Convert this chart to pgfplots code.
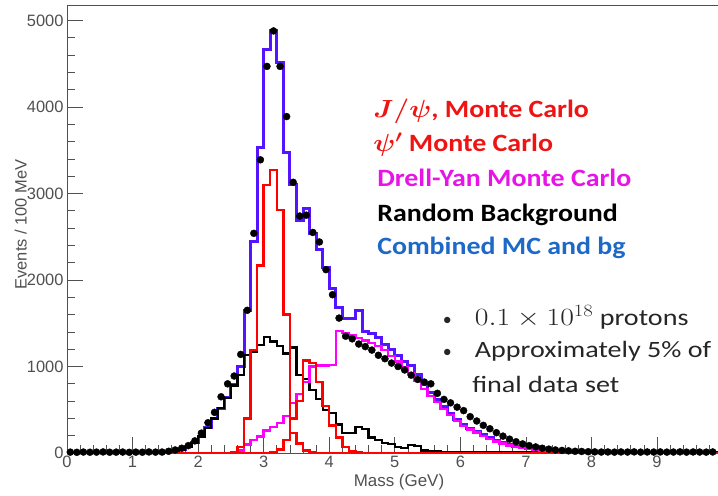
\documentclass[border=0pt]{standalone}
\usepackage{fontspec}
\usepackage{graphicx}
\usepackage{pgfplots}
\usepackage{pgfplotstable}
\pgfplotsset{compat=1.18}
\setmainfont{Liberation Sans}
\newfontfamily\calfont{Carlito}
\definecolor{combblue}{RGB}{85,20,255}
\definecolor{histred}{RGB}{255,0,0}
\definecolor{histmag}{RGB}{255,0,255}
\definecolor{tickgray}{RGB}{80,80,80}
\definecolor{txtred}{RGB}{238,20,20}
\definecolor{txtmag}{RGB}{230,20,230}
\definecolor{txtblue}{RGB}{30,105,200}

% bin left edge, J/psi, psi', Drell-Yan, random bg, combined
\pgfplotstableread{
x   jpsi psip dy   bg   comb
0.0 0    0    0    8    8
0.1 0    0    0    8    8
0.2 0    0    0    8    8
0.3 0    0    0    8    8
0.4 0    0    0    8    8
0.5 0    0    0    8    8
0.6 0    0    0    8    8
0.7 0    0    0    8    8
0.8 0    0    0    8    8
0.9 0    0    0    8    8
1.0 0    0    0    8    8
1.1 0    0    0    8    8
1.2 0    0    0    8    8
1.3 0    0    0    8    8
1.4 0    0    0    8    8
1.5 0    0    0    12   12
1.6 0    0    0    20   20
1.7 0    0    0    40   40
1.8 0    0    0    70   70
1.9 0    0    0    120  120
2.0 0    0    0    190  190
2.1 0    0    0    290  290
2.2 0    0    0    400  400
2.3 0    0    0    520  520
2.4 0    0    0    640  640
2.5 10   0    0    780  790
2.6 70   0    30   900  1000
2.7 400  0    100  1130 1650
2.8 1190 0    150  1170 2440
2.9 2170 0    190  1250 3530
3.0 3100 0    260  1340 4660
3.1 3270 10   300  1290 4880
3.2 2810 40   350  1240 4510
3.3 1600 150  430  1150 3480
3.4 230  400  580  1220 3110
3.5 110  600  680  900  2690
3.6 30   1070 820  860  2830
3.7 10   1040 1000 730  2540
3.8 0    820  1010 620  2350
3.9 0    540  1010 500  2140
4.0 0    320  1020 460  1900
4.1 0    180  1410 330  1680
4.2 0    70   1390 230  1560
4.3 0    25   1360 230  1560
4.4 0    10   1330 300  1650
4.5 0    0    1300 280  1400
4.6 0    0    1270 180  1380
4.7 0    0    1240 150  1330
4.8 0    0    1190 120  1260
4.9 0    0    1120 100  1200
5.0 0    0    1060 70   1130
5.1 0    0    990  60   1060
5.2 0    0    920  90   1010
5.3 0    0    830  80   910
5.4 0    0    740  30   790
5.5 0    0    660  25   700
5.6 0    0    590  20   620
5.7 0    0    510  15   540
5.8 0    0    440  12   460
5.9 0    0    370  10   390
6.0 0    0    310  10   330
6.1 0    0    270  10   285
6.2 0    0    235  10   245
6.3 0    0    200  10   210
6.4 0    0    165  10   175
6.5 0    0    135  10   145
6.6 0    0    110  10   120
6.7 0    0    85   10   95
6.8 0    0    68   10   78
6.9 0    0    55   10   65
7.0 0    0    44   10   54
7.1 0    0    35   10   45
7.2 0    0    27   10   37
7.3 0    0    20   10   30
7.4 0    0    15   10   25
7.5 0    0    10   10   20
7.6 0    0    7    10   17
7.7 0    0    5    10   15
7.8 0    0    3    10   13
7.9 0    0    2    10   12
8.0 0    0    0    10   10
8.5 0    0    0    10   10
9.0 0    0    0    10   10
9.5 0    0    0    10   10
10.0 0   0    0    10   10
}\hists

% data points at bin centres
\pgfplotstableread{
x    y
0.05 10
0.15 8
0.25 11
0.35 9
0.45 10
0.55 12
0.65 9
0.75 10
0.85 11
0.95 8
1.05 10
1.15 9
1.25 12
1.35 10
1.45 11
1.55 20
1.65 35
1.75 55
1.85 85
1.95 140
2.05 230
2.15 350
2.25 470
2.35 650
2.45 800
2.55 890
2.65 1140
2.75 1650
2.85 2540
2.95 3390
3.05 4470
3.15 4880
3.25 4470
3.35 3890
3.45 3130
3.55 2740
3.65 2750
3.75 2550
3.85 2440
3.95 2120
4.05 1830
4.15 1560
4.25 1350
4.35 1320
4.45 1260
4.55 1230
4.65 1190
4.75 1130
4.85 1090
4.95 1040
5.05 1000
5.15 960
5.25 900
5.35 850
5.45 820
5.55 800
5.65 690
5.75 620
5.85 580
5.95 530
6.05 490
6.15 420
6.25 370
6.35 320
6.45 280
6.55 235
6.65 195
6.75 160
6.85 130
6.95 105
7.05 85
7.15 70
7.25 55
7.35 45
7.45 35
7.55 30
7.65 25
7.75 20
7.85 18
7.95 15
8.05 13
8.15 11
8.25 12
8.35 10
8.45 12
8.55 11
8.65 13
8.75 10
8.85 12
8.95 11
9.05 12
9.15 10
9.25 11
9.35 13
9.45 10
9.55 12
9.65 11
9.75 10
9.85 12
9.95 11
}\datapts

\begin{document}
\begin{tikzpicture}
\begin{axis}[
  scale only axis,
  width=651bp, height=448bp,
  xmin=0, xmax=9.93, ymin=0, ymax=5180,
  xtick={0,...,9},
  minor xtick={0.2,0.4,...,9.81},
  ytick={0,1000,...,5000},
  minor y tick num=4,
  xtick pos=bottom, ytick pos=left,
  tick align=inside,
  major tick length=16bp, minor tick length=8bp,
  axis line style={tickgray, line width=0.8pt},
  every tick/.style={tickgray, line width=0.8pt},
  ticklabel style={font=\fontsize{16.5}{18}\selectfont, text=tickgray},
  /pgf/number format/assume math mode=true,
  /pgf/number format/1000 sep={},
  xlabel={Mass (GeV)},
  xlabel style={at={(axis description cs:0.51,-0.074)}, anchor=base,
    font=\fontsize{17}{19}\selectfont, text=tickgray},
  ylabel={Events / 100 MeV},
  ylabel style={at={(axis description cs:-0.071,0.51)}, anchor=center,
    font=\fontsize{16.5}{18}\selectfont, text=tickgray},
]
\addplot[const plot mark left, combblue, line width=3bp] table[x=x, y=comb] {\hists};
\addplot[const plot mark left, black, line width=2.2bp] table[x=x, y=bg] {\hists};
\addplot[const plot mark left, histmag, line width=2.4bp] table[x=x, y=dy] {\hists};
\addplot[const plot mark left, histred, line width=2.4bp] table[x=x, y=psip] {\hists};
\addplot[const plot mark left, histred, line width=2.4bp] table[x=x, y=jpsi] {\hists};
\addplot[only marks, mark=*, mark size=3.5bp, black] table[x=x, y=y] {\datapts};

\node[anchor=base west, inner sep=0pt, text=txtred] at (axis cs:4.67,3877)
  {\scalebox{1.12}[1]{\calfont\bfseries\fontsize{25}{30}\selectfont{\boldmath$J/\psi$}, Monte Carlo}};
\node[anchor=base west, inner sep=0pt, text=txtred] at (axis cs:4.67,3484)
  {\scalebox{1.12}[1]{\calfont\bfseries\fontsize{25}{30}\selectfont{\boldmath$\psi'$} Monte Carlo}};
\node[anchor=base west, inner sep=0pt, text=txtmag] at (axis cs:4.73,3079)
  {\scalebox{1.12}[1]{\calfont\bfseries\fontsize{25}{30}\selectfont Drell-Yan Monte Carlo}};
\node[anchor=base west, inner sep=0pt, text=black] at (axis cs:4.73,2674)
  {\scalebox{1.12}[1]{\calfont\bfseries\fontsize{25}{30}\selectfont Random Background}};
\node[anchor=base west, inner sep=0pt, text=txtblue] at (axis cs:4.73,2292)
  {\scalebox{1.12}[1]{\calfont\bfseries\fontsize{25}{30}\selectfont Combined MC and bg}};

\node[anchor=base west, inner sep=0pt, text=black!85] at (axis cs:5.73,1470)
  {\calfont\fontsize{18}{22}\selectfont\textbullet};
\node[anchor=base west, inner sep=0pt, text=black!85] at (axis cs:6.22,1470)
  {\scalebox{1.2}[1]{\calfont\fontsize{23.5}{28}\selectfont$0.1\times10^{18}$ protons}};
\node[anchor=base west, inner sep=0pt, text=black!85] at (axis cs:5.73,1100)
  {\calfont\fontsize{18}{22}\selectfont\textbullet};
\node[anchor=base west, inner sep=0pt, text=black!85] at (axis cs:6.22,1100)
  {\scalebox{1.2}[1]{\calfont\fontsize{23.5}{28}\selectfont Approximately 5\% of}};
\node[anchor=base west, inner sep=0pt, text=black!85] at (axis cs:6.18,694)
  {\scalebox{1.2}[1]{\calfont\fontsize{23.5}{28}\selectfont final data set}};
\end{axis}
\pgfresetboundingbox
\path[use as bounding box] (-67bp,-43bp) rectangle (651bp,453bp);
\end{tikzpicture}
\end{document}
